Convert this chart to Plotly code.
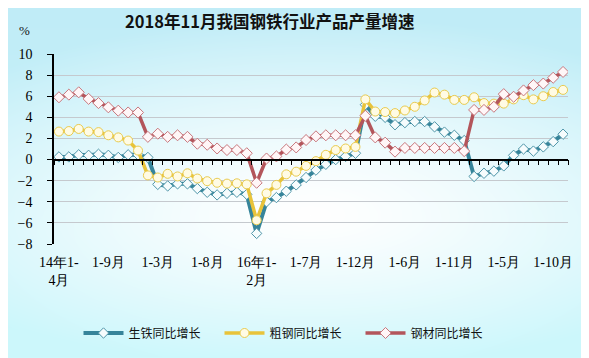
import base64
import struct
import zlib

import plotly.graph_objects as go

# ---------------- data ----------------
categories = [
    "2014年1-4月", "2014年1-5月", "2014年1-6月", "2014年1-7月", "2014年1-8月", "2014年1-9月",
    "2014年1-10月", "2014年1-11月", "2014年1-12月",
    "2015年1-2月", "2015年1-3月", "2015年1-4月", "2015年1-5月", "2015年1-6月", "2015年1-7月",
    "2015年1-8月", "2015年1-9月", "2015年1-10月", "2015年1-11月", "2015年1-12月",
    "2016年1-2月", "2016年1-3月", "2016年1-4月", "2016年1-5月", "2016年1-6月", "2016年1-7月",
    "2016年1-8月", "2016年1-9月", "2016年1-10月", "2016年1-11月", "2016年1-12月",
    "2017年1-2月", "2017年1-3月", "2017年1-4月", "2017年1-5月", "2017年1-6月", "2017年1-7月",
    "2017年1-8月", "2017年1-9月", "2017年1-10月", "2017年1-11月", "2017年1-12月",
    "2018年1-2月", "2018年1-3月", "2018年1-4月", "2018年1-5月", "2018年1-6月", "2018年1-7月",
    "2018年1-8月", "2018年1-9月", "2018年1-10月", "2018年1-11月",
]

pig_iron = [
    0.25, 0.25, 0.45, 0.4, 0.5, 0.4, 0.2, 0.45, 0.45,
    0.2, -2.35, -2.5, -2.3, -2.3, -2.75, -3.1, -3.35, -3.2, -3.1, -3.3,
    -7.0, -4.0, -3.6, -3.0, -2.4, -1.7, -1.0, -0.45, 0.0, 0.3, 0.6,
    5.2, 4.1, 4.0, 3.3, 3.5, 3.6, 3.6, 3.1, 2.6, 2.3, 1.8,
    -1.6, -1.3, -1.1, -0.6, 0.4, 1.0, 0.8, 1.2, 1.7, 2.4,
]

crude_steel = [
    2.65, 2.7, 2.9, 2.65, 2.6, 2.3, 2.1, 1.8, 0.85,
    -1.5, -1.7, -1.35, -1.6, -1.3, -1.8, -2.05, -2.2, -2.28, -2.25, -2.35,
    -5.75, -3.2, -2.4, -1.4, -1.15, -0.6, -0.15, 0.45, 0.9, 1.05, 1.2,
    5.7, 4.55, 4.5, 4.4, 4.65, 5.0, 5.6, 6.35, 6.15, 5.65, 5.65,
    5.9, 5.35, 5.3, 5.3, 5.7, 6.1, 5.7, 6.0, 6.4, 6.6,
]

steel_products = [
    5.9, 6.15, 6.37, 5.75, 5.35, 4.95, 4.63, 4.46, 4.46,
    2.15, 2.45, 2.15, 2.3, 2.15, 1.5, 1.4, 1.05, 0.9, 0.9, 0.6,
    -2.2, 0.1, 0.3, 0.95, 1.15, 1.85, 2.2, 2.3, 2.3, 2.3, 2.3,
    4.15, 2.1, 1.6, 0.75, 1.1, 1.1, 1.1, 1.1, 1.1, 1.1, 0.8,
    4.7, 4.7, 5.0, 6.2, 5.95, 6.55, 7.05, 7.2, 7.75, 8.3,
]

series_names = ["生铁同比增长", "粗钢同比增长", "钢材同比增长"]

tick_cats = ["2014年1-4月", "2014年1-9月", "2015年1-3月", "2015年1-8月", "2016年1-2月",
             "2016年1-7月", "2016年1-12月", "2017年1-6月", "2017年1-11月", "2018年1-5月",
             "2018年1-10月"]
tick_text = ["14年1-<br>4月", "1-9月", "1-3月", "1-8月", "16年1-<br>2月", "1-7月",
             "1-12月", "1-6月", "1-11月", "1-5月", "1-10月"]

title_text = "2018年11月我国钢铁行业产品产量增速"
y_unit = "%"

# ---------------- geometry ----------------
# The page body has an 8px default margin, so the figure is drawn 8px smaller
OFF = 8
W, H = 589 - OFF, 358 - OFF
ML, MR, MT, MB = 54 - OFF, 21, 54 - OFF, 114
PW, PH = W - ML - MR, H - MT - MB


def px_x(xr):  # reference pixel x -> paper fraction
    return (xr - OFF - ML) / PW


def px_y(yr):  # reference pixel y -> paper fraction
    return (MT + PH - (yr - OFF)) / PH


# ---------------- background gradient (style only) ----------------
def make_bg():
    cx, cy = 310.0, 215.0
    rx, ry_top, ry_bot = 450.0, 200.0, 150.0
    rows = []
    for yf in range(H):
        yy = yf + OFF
        f = yy / 357.0
        er = 192 + (205 - 192) * f
        eg = 236 + (248 - 236) * f
        eb = 247 + (252 - 247) * f
        ry = ry_top if yy < cy else ry_bot
        dy = (yy - cy) / ry
        row = bytearray()
        for xf in range(W):
            dx = (xf + OFF - cx) / rx
            t = (dx * dx + dy * dy) ** 0.5
            if t > 1:
                t = 1.0
            t = t ** 1.3
            row += bytes((int(255 + (er - 255) * t), int(255 + (eg - 255) * t), int(255 + (eb - 255) * t)))
        rows.append(bytes(row))
    raw = b"".join(b"\x00" + r for r in rows)

    def chunk(tag, data):
        c = struct.pack(">I", len(data)) + tag + data
        return c + struct.pack(">I", zlib.crc32(tag + data) & 0xFFFFFFFF)

    png = b"\x89PNG\r\n\x1a\n" + chunk(b"IHDR", struct.pack(">IIBBBBB", W, H, 8, 2, 0, 0, 0))
    png += chunk(b"IDAT", zlib.compress(raw, 9)) + chunk(b"IEND", b"")
    return "data:image/png;base64," + base64.b64encode(png).decode()


# ---------------- figure ----------------
fig = go.Figure()

styles = [
    dict(line=dict(color="#36849A", width=4),
         marker=dict(symbol="diamond", size=8, color="#F6FCFD", line=dict(color="#4E95A8", width=1))),
    dict(line=dict(color="#E8C33A", width=3.5),
         marker=dict(symbol="circle", size=9, color="#FFFBE4", line=dict(color="#E9CB4F", width=1))),
    dict(line=dict(color="#B3555B", width=3.5),
         marker=dict(symbol="diamond", size=8.5, color="#FFF6F7", line=dict(color="#C7767C", width=1))),
]

for name, vals, st in zip(series_names, [pig_iron, crude_steel, steel_products], styles):
    fig.add_trace(go.Scatter(x=categories, y=vals, name=name, mode="lines+markers",
                             line=st["line"], marker=st["marker"], hoverinfo="x+y"))

# invisible helper trace so the zero-line category axis exists
fig.add_trace(go.Scatter(x=categories, y=[None] * len(categories), xaxis="x2",
                         showlegend=False, hoverinfo="skip", mode="lines"))

tick_font = dict(family="Liberation Serif", size=14, color="#000000")

fig.update_layout(
    width=W, height=H,
    margin=dict(l=ML, r=MR, t=MT, b=MB, pad=0, autoexpand=False),
    paper_bgcolor="#FFFFFF",
    plot_bgcolor="rgba(0,0,0,0)",
    showlegend=True,
    legend=dict(orientation="h", xref="container", yref="container",
                x=(290 - OFF) / W, xanchor="center", y=1 - (333 - OFF) / H, yanchor="middle",
                font=dict(family="Noto Sans CJK SC", size=12, color="#111111"),
                bgcolor="rgba(0,0,0,0)", itemwidth=40, tracegroupgap=0,
                entrywidth=86, entrywidthmode="pixels"),
    xaxis=dict(type="category", categoryorder="array", categoryarray=categories,
               range=[-0.5, len(categories) - 0.5], automargin=False,
               tickmode="array", tickvals=tick_cats, ticktext=tick_text,
               ticks="outside", ticklen=5, tickcolor="rgba(0,0,0,0)",
               showline=False, showgrid=False, zeroline=False, tickfont=tick_font),
    xaxis2=dict(type="category", categoryorder="array", categoryarray=categories,
                overlaying="x", anchor="free", position=8 / 18, matches="x",
                range=[-0.5, len(categories) - 0.5], automargin=False,
                tickmode="linear", tick0=0, dtick=1, tickson="boundaries",
                ticks="outside", ticklen=5, tickcolor="#000000", tickwidth=1,
                showticklabels=False, showline=True, linecolor="#000000", linewidth=1.5,
                showgrid=False, zeroline=False),
    yaxis=dict(range=[-8, 10], dtick=2, tick0=0, showgrid=True, gridcolor="#C5C9CE", gridwidth=1,
               zeroline=False, showline=True, linecolor="#000000", linewidth=1.5, automargin=False,
               ticks="outside", ticklen=5, tickcolor="#000000", tickfont=tick_font,
               ticklabelstandoff=12),
    images=[dict(source=make_bg(), xref="paper", yref="paper",
                 x=-ML / PW, y=(PH + MT) / PH, sizex=W / PW, sizey=H / PH,
                 sizing="stretch", xanchor="left", yanchor="top", layer="below")],
    annotations=[
        dict(text="<b>" + title_text + "</b>", xref="paper", yref="paper",
             x=px_x(270), y=px_y(21), xanchor="center", yanchor="middle",
             showarrow=False, font=dict(family="Noto Sans CJK SC", size=16.5, color="#111111")),
        dict(text=y_unit, xref="paper", yref="paper",
             x=px_x(24), y=px_y(30), xanchor="center", yanchor="middle",
             showarrow=False, font=dict(family="Liberation Serif", size=13, color="#111111")),
    ],
)

fig.write_html("out.html")
